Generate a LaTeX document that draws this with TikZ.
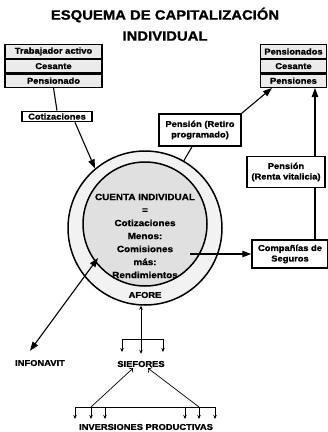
\documentclass[tikz,border=0pt]{standalone}
\usepackage{fontspec}
\setmainfont{Liberation Sans}[FakeStretch=1.1, BoldFeatures={FakeBold=1.2}]
\usetikzlibrary{arrows.meta,positioning,shapes.geometric}

\begin{document}
\begin{tikzpicture}[
    x=1pt, y=-1pt,
    title/.style={font=\fontsize{13.5}{15}\selectfont\bfseries},
    rowbox/.style={rectangle, draw=black, line width=1.1pt, fill=black!8, minimum height=13.5pt, inner sep=1pt, font=\fontsize{8.5}{9}\selectfont\bfseries},
    lblbox/.style={rectangle, draw=black, line width=1.5pt, fill=white, align=center, inner sep=2pt, font=\fontsize{8.5}{10.5}\selectfont\bfseries},
    ctext/.style={align=center, font=\fontsize{9}{13}\selectfont\bfseries},
    lbl/.style={font=\fontsize{8.5}{9}\selectfont\bfseries, inner sep=1pt},
    arr/.style={-{Triangle[length=9pt,width=6.5pt]}, line width=1.1pt},
    sarr/.style={-{Stealth[length=4pt,width=3.5pt]}, line width=0.7pt}
]
\useasboundingbox (0,0) rectangle (328,432);
% title
\node[title] (tit1) at (165,15) {ESQUEMA DE CAPITALIZACIÓN};
\node[title, below=2pt of tit1] (tit2) {INDIVIDUAL};
% left stack
\node[rowbox, minimum width=97pt] (trab) at (53.5,51.5) {Trabajador activo};
\node[rowbox, minimum width=97pt, below=0pt of trab] (cesa) {Cesante};
\node[rowbox, minimum width=97pt, below=0pt of cesa] (pens) {Pensionado};
% right stack
\node[rowbox, minimum width=66pt] (pensR) at (293.5,51.5) {Pensionados};
\node[rowbox, minimum width=66pt, below=0pt of pensR] (cesaR) {Cesante};
\node[rowbox, minimum width=66pt, below=0pt of cesaR] (pensR3) {Pensiones};
% middle boxes
\node[lblbox, minimum width=70pt] (cotiz) at (57,116.5) {Cotizaciones};
\node[lblbox, minimum width=82pt, minimum height=32pt] (retiro) at (200,130) {Pensión (Retiro\\programado)};
\node[lblbox, minimum width=78pt, minimum height=31pt] (renta) at (286,172) {Pensión\\(Renta vitalicia)};
\node[lblbox, minimum width=76pt, minimum height=28pt] (cia) at (290,254) {Compañías de\\Seguros};
% account
\node[circle, draw=black, line width=1.5pt, fill=black!5, minimum size=154pt] (afore) at (145,228) {};
\node[circle, draw=black, line width=1.5pt, fill=black!12, minimum size=124pt] (cuenta) at (145,224) {};
\node[ctext] (ctxt) at (145,236) {CUENTA INDIVIDUAL\\=\\Cotizaciones\\Menos:\\Comisiones\\más:\\Rendimientos};
\node[lbl] (afl) at (145,295) {AFORE};
% bottom labels
\node[lbl] (infon) at (40,363) {INFONAVIT};
\node[lbl] (sief) at (141,364) {SIEFORES};
\node[lbl] (inver) at (146,427) {INVERSIONES PRODUCTIVAS};
\coordinate (vx) at (315,0);
\coordinate (cbase) at (190,254);
\coordinate (ibase) at (98,258);
% connectors
\draw[line width=1.1pt] (pens.south) -- (cotiz.north);
\draw[arr] ([xshift=18pt]cotiz.south) -- (afore.130);
\draw[line width=1.1pt] (afore.60) -- ([xshift=-8pt]retiro.south);
\draw[arr] (retiro.north east) -- ([xshift=12pt]pensR3.south west);
\draw[line width=1.1pt] (cia.north -| vx) -- (renta.south -| vx);
\draw[arr] (renta.north -| vx) -- (pensR3.south -| vx);
\draw[arr] (cbase) -- (cia.west);
\draw[{Triangle[length=9pt,width=6.5pt]}-{Triangle[length=9pt,width=6.5pt]}, line width=1.1pt] (ibase) -- ([xshift=-10pt,yshift=8pt]infon.north);
% afore to siefores
\draw[{Stealth[length=4pt,width=3.5pt]}-{Stealth[length=4pt,width=3.5pt]}, line width=0.7pt] (afore.south -| sief) -- ([yshift=6pt]sief.north);
\draw[line width=0.7pt] (122,339) -- (163,339);
\foreach \x in {122,163} \draw[sarr] (\x,339) -- (\x,352);
% siefores to inversiones
\draw[sarr, <-] ([xshift=-8pt]sief.south) -- (91,407);
\draw[sarr, <-] ([xshift=7pt]sief.south) -- (199,407);
\draw[line width=0.7pt] (75,407) -- (215,407);
\foreach \x in {75,91,105,185,199,215} \draw[sarr] (\x,407) -- (\x,419);
\end{tikzpicture}
\end{document}
